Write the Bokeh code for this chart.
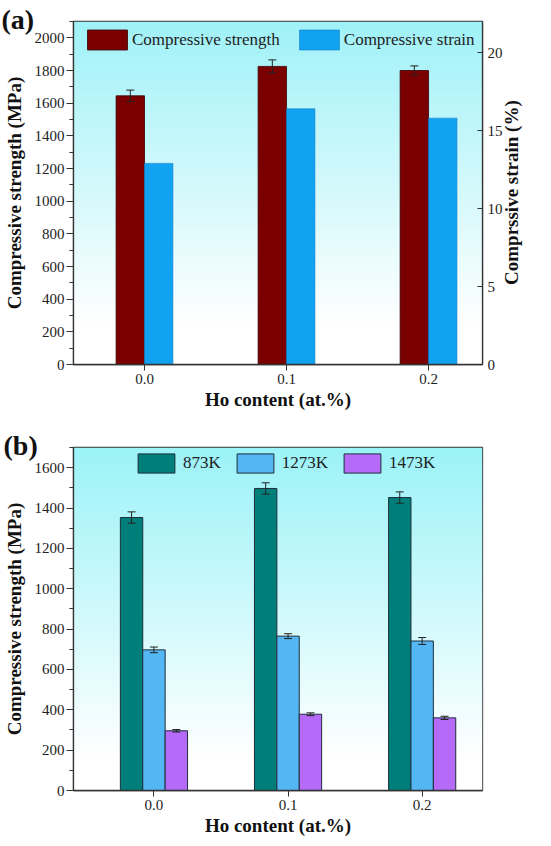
import math
import numpy as np
from bokeh.plotting import figure
from bokeh.models import (ColumnDataSource, Range1d, LinearAxis, SingleIntervalTicker,
                          FixedTicker, Whisker, TeeHead, Title, Legend, LegendItem,
                          NumeralTickFormatter, CustomJSTickFormatter)
from bokeh.layouts import column
from bokeh.embed import file_html
from bokeh.resources import INLINE

# ---------------- data ----------------
ho = [0.0, 0.1, 0.2]

# panel (a)
strength_a = [1645, 1825, 1800]
strength_a_err = [35, 40, 28]
strain_a = [12.9, 16.4, 15.8]

# panel (b)
s873 = [1353, 1497, 1452]
s873_err = [28, 28, 28]
s1273 = [697, 765, 741]
s1273_err = [14, 12, 17]
s1473 = [296, 378, 360]
s1473_err = [6, 7, 8]

FONT = "Liberation Serif"
AX = "#333333"
STRAIN_LABEL_START = 5.1   # where the rotated right-axis title starts (strain units)


def gradient_image(top=(160, 242, 248), n=256, fade=0.12):
    t = np.linspace(0.0, 1.0, n)
    f = np.clip((t - fade) / (1.0 - fade), 0.0, 1.0)
    img = np.zeros((n, 2), dtype=np.uint32)
    view = img.view(dtype=np.uint8).reshape((n, 2, 4))
    for i, c in enumerate(top):
        view[:, :, i] = (255 * (1 - f) + c * f)[:, None].astype(np.uint8)
    view[:, :, 3] = 255
    return img


def style(p):
    p.grid.grid_line_color = None
    p.outline_line_color = AX
    p.outline_line_width = 1.3
    p.background_fill_color = "white"
    for ax in p.axis:
        ax.axis_line_color = AX
        ax.axis_line_width = 1.3
        ax.major_tick_line_color = AX
        ax.minor_tick_line_color = AX
        ax.major_label_text_font = FONT
        ax.major_label_text_font_size = "15px"
        ax.major_label_text_color = "#222222"
        ax.axis_label_text_font = FONT
        ax.axis_label_text_font_size = "19px"
        ax.axis_label_text_font_style = "bold"
        ax.axis_label_text_color = "#111111"


def style_axes(p):
    p.xaxis.ticker = FixedTicker(ticks=ho)
    p.xaxis.formatter = NumeralTickFormatter(format="0.0")
    p.xaxis.axis_label = "Ho content (at.%)"
    p.xaxis.major_tick_out = 6
    p.xaxis.major_tick_in = 0
    p.xaxis.minor_tick_out = 0
    p.xaxis.major_label_standoff = 3
    p.xaxis.axis_label_standoff = 2
    p.yaxis.ticker = SingleIntervalTicker(interval=200, num_minor_ticks=2)
    p.yaxis.axis_label = "Compressive strength (MPa)"
    p.yaxis.major_tick_out = 7
    p.yaxis.major_tick_in = 0
    p.yaxis.minor_tick_out = 4
    p.yaxis.minor_tick_in = 0
    p.yaxis.major_label_standoff = 2
    p.yaxis.axis_label_standoff = 7


def whisker(p, src, base, lo, hi):
    w = Whisker(base=base, upper=hi, lower=lo, source=src, level="overlay",
                line_color="#222222", line_width=1,
                upper_head=TeeHead(size=8, line_color="#222222", line_width=1),
                lower_head=TeeHead(size=8, line_color="#222222", line_width=1))
    p.add_layout(w)


def panel_title(text, offset):
    return Title(text=text, align="left", vertical_align="top", offset=offset, standoff=-30,
                 text_font=FONT, text_font_size="28px", text_font_style="bold",
                 text_color="#111111")


# ---------------- panel (a) ----------------
pa = figure(width=535, height=412, output_backend="svg", toolbar_location=None,
            x_range=Range1d(-0.05, 0.238), y_range=Range1d(0, 2100),
            min_border_left=67, min_border_right=40, min_border_top=21, min_border_bottom=48,
            title=panel_title("(a)", -72))
pa.extra_y_ranges = {"strain": Range1d(0, 22)}
pa.image_rgba(image=[gradient_image()], x=-0.05, y=0, dw=0.288, dh=2100)

DA = 0.01
src_a = ColumnDataSource(dict(x=ho,
                              xs=[v - DA for v in ho], xe=[v + DA for v in ho],
                              strength=strength_a,
                              lo=[v - e for v, e in zip(strength_a, strength_a_err)],
                              hi=[v + e for v, e in zip(strength_a, strength_a_err)],
                              strain=strain_a))
ra1 = pa.vbar(x="xs", top="strength", width=2 * DA, source=src_a,
              fill_color="#7A0000", line_color="#3a0000", line_width=0.8)
ra2 = pa.vbar(x="xe", top="strain", width=2 * DA, source=src_a,
              y_range_name="strain", fill_color="#12A2F2", line_color="#1080c8", line_width=0.6)
whisker(pa, src_a, "xs", "lo", "hi")

style_axes(pa)
ra = LinearAxis(y_range_name="strain", ticker=SingleIntervalTicker(interval=5, num_minor_ticks=0))
ra.major_tick_in = 5
ra.major_tick_out = 0
ra.minor_tick_in = 0
ra.minor_tick_out = 0
ra.major_label_standoff = 5
pa.add_layout(ra, "right")

# rotated right-hand title, read bottom-to-top like the reference
rl = LinearAxis(y_range_name="strain", ticker=FixedTicker(ticks=[STRAIN_LABEL_START]),
                formatter=CustomJSTickFormatter(code="return 'Comprssive strain (%)'"),
                major_label_orientation=math.pi / 2)
pa.add_layout(rl, "right")
style(pa)
rl.axis_line_color = None
rl.major_tick_line_color = None
rl.minor_tick_line_color = None
rl.major_tick_in = 0
rl.major_tick_out = 0
rl.minor_tick_in = 0
rl.minor_tick_out = 0
rl.major_label_standoff = 6
rl.major_label_text_font_size = "19px"
rl.major_label_text_font_style = "bold"
rl.major_label_text_color = "#111111"

leg_a = Legend(items=[LegendItem(label="Compressive strength", renderers=[ra1]),
                      LegendItem(label="Compressive strain", renderers=[ra2])],
               orientation="horizontal", location=(9, 312),
               glyph_width=50, glyph_height=25, label_standoff=0, spacing=14,
               padding=0, margin=0, border_line_color=None, background_fill_alpha=0,
               label_text_font=FONT, label_text_font_size="17px", label_text_color="#222222")
pa.add_layout(leg_a)

# ---------------- panel (b) ----------------
pb = figure(width=535, height=426, output_backend="svg", toolbar_location=None,
            x_range=Range1d(-0.06, 0.245), y_range=Range1d(0, 1700),
            min_border_left=67, min_border_right=40, min_border_top=35, min_border_bottom=46,
            title=panel_title("(b)", -70))
pb.image_rgba(image=[gradient_image(top=(156, 243, 248), fade=0.1)], x=-0.06, y=0, dw=0.305, dh=1700)

W = 0.0167
src_b = ColumnDataSource(dict(x=ho,
                              xa=[v - W for v in ho], xb=list(ho), xc=[v + W for v in ho],
                              a=s873, b=s1273, c=s1473,
                              alo=[v - e for v, e in zip(s873, s873_err)],
                              ahi=[v + e for v, e in zip(s873, s873_err)],
                              blo=[v - e for v, e in zip(s1273, s1273_err)],
                              bhi=[v + e for v, e in zip(s1273, s1273_err)],
                              clo=[v - e for v, e in zip(s1473, s1473_err)],
                              chi=[v + e for v, e in zip(s1473, s1473_err)]))
rb = []
for key, col in [("a", "#007F7A"), ("b", "#55B6F4"), ("c", "#B56AF8")]:
    r = pb.vbar(x="x" + key, top=key, width=W, source=src_b,
                fill_color=col, line_color="#1d2f3a", line_width=1)
    rb.append(r)
    whisker(pb, src_b, "x" + key, key + "lo", key + "hi")

style_axes(pb)
style(pb)

leg_b = Legend(items=[LegendItem(label="873K", renderers=[rb[0]]),
                      LegendItem(label="1273K", renderers=[rb[1]]),
                      LegendItem(label="1473K", renderers=[rb[2]])],
               orientation="horizontal", location=(60, 315),
               glyph_width=46, glyph_height=24, label_standoff=4, spacing=11,
               padding=0, margin=0, border_line_color=None, background_fill_alpha=0,
               label_text_font=FONT, label_text_font_size="17px", label_text_color="#222222")
pb.add_layout(leg_b)

layout = column(pa, pb, spacing=0)
open("out.html", "w").write(file_html(layout, INLINE))
